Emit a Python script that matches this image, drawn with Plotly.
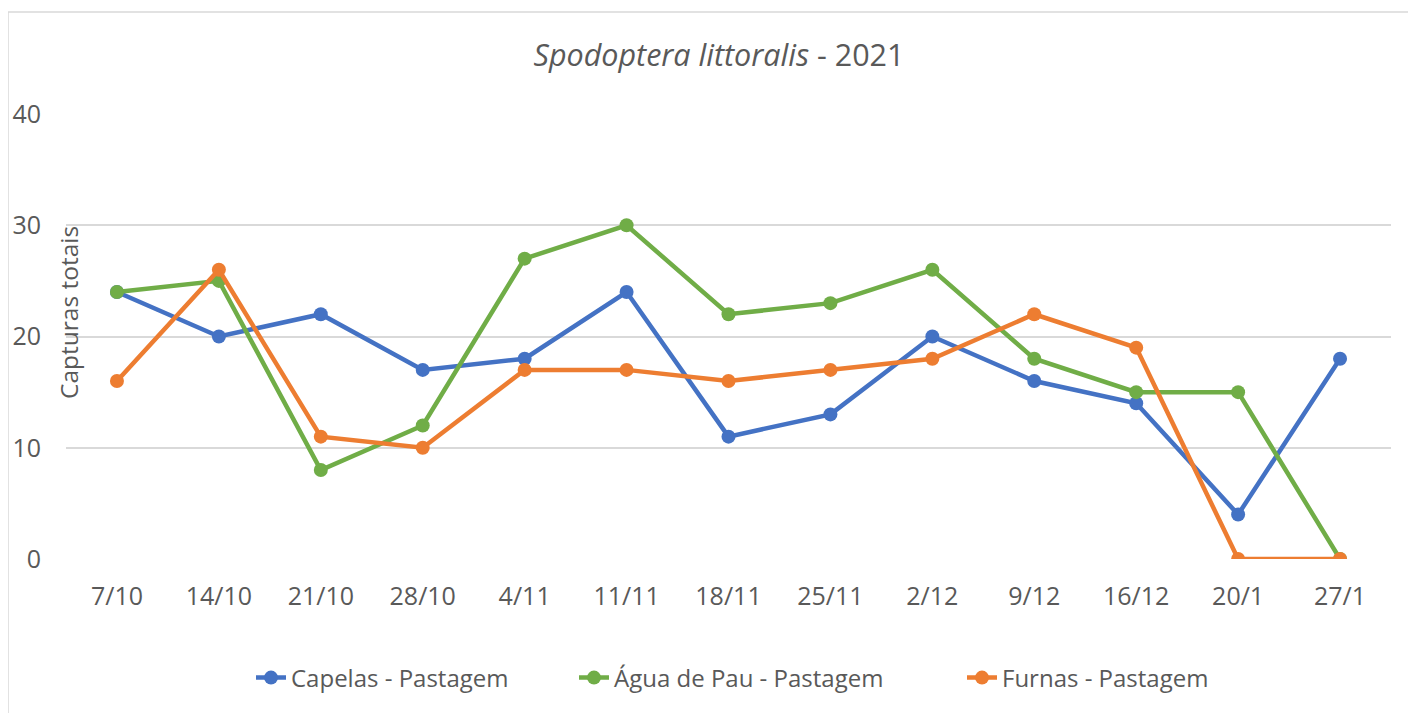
import plotly.graph_objects as go

categories = ["7/10", "14/10", "21/10", "28/10", "4/11", "11/11", "18/11",
              "25/11", "2/12", "9/12", "16/12", "20/1", "27/1"]
capelas = [24, 20, 22, 17, 18, 24, 11, 13, 20, 16, 14, 4, 18]
agua_de_pau = [24, 25, 8, 12, 27, 30, 22, 23, 26, 18, 15, 15, 0]
furnas = [16, 26, 11, 10, 17, 17, 16, 17, 18, 22, 19, 0, 0]
series_names = ["Capelas - Pastagem", "Água de Pau - Pastagem", "Furnas - Pastagem"]
colors = ["#4472C4", "#70AD47", "#ED7D31"]

FONT = "Open Sans, sans-serif"
TXT = "#595959"

# page body has an 8px margin; plot area target in page px: x 66..1391, y 114..559
W, H = 1408, 705
L, T = 58, 106
PW, PH = 1325, 445
R = W - L - PW
B = H - T - PH

legend_ids = ["legend", "legend2", "legend3"]
legend_text_x = [296, 619, 1007]  # page px anchor for each legend entry

fig = go.Figure()
for name, vals, col, lid in zip(series_names, [capelas, agua_de_pau, furnas], colors, legend_ids):
    fig.add_trace(go.Scatter(
        x=categories, y=vals, name=name, mode="lines+markers",
        line=dict(color=col, width=4.5),
        marker=dict(color=col, size=14),
        legend=lid,
    ))

legend_common = dict(orientation="h", xanchor="left", y=(559 - 678) / PH, yanchor="middle",
                     font=dict(family=FONT, size=24, color=TXT), bgcolor="rgba(0,0,0,0)")
legends = {}
for lid, tx in zip(legend_ids, legend_text_x):
    legends[lid] = dict(legend_common, x=(tx - 45 - 66) / PW)

fig.update_layout(
    width=W, height=H,
    paper_bgcolor="white", plot_bgcolor="white",
    margin=dict(l=L, r=R, t=T, b=B),
    font=dict(family=FONT, color=TXT, size=25),
    title=dict(text="<i>Spodoptera littoralis</i> - 2021", x=(719 - 8) / W,
               xanchor="center", xref="container",
               y=1 - (55 - 8) / H, yanchor="middle",
               font=dict(family=FONT, size=30.5, color=TXT)),
    showlegend=True,
    xaxis=dict(type="category", range=[-0.5, len(categories) - 0.5], automargin=False,
               showgrid=False, showline=False, zeroline=False,
               ticks="", ticklabelstandoff=20, tickfont=dict(size=25, color=TXT)),
    yaxis=dict(range=[0, 40], tickvals=[0, 10, 20, 30, 40], showgrid=True, automargin=False,
               gridcolor="#D9D9D9", gridwidth=1.5, zeroline=False, showline=False,
               ticks="", ticklabelstandoff=24, tickfont=dict(size=25, color=TXT)),
    **legends,
)

fig.add_annotation(text="Capturas totais", xref="paper", yref="paper",
                   x=(68 - 66) / PW, y=(559 - 313) / PH, textangle=-90,
                   showarrow=False, xanchor="center", yanchor="middle",
                   font=dict(family=FONT, size=24.5, color=TXT))

fig.add_shape(type="rect", xref="paper", yref="paper",
              x0=(8 - 66) / PW, x1=(1415 - 66) / PW,
              y0=-0.4, y1=1 + (114 - 12) / PH,
              line=dict(color="#D9D9D9", width=1.5), fillcolor="rgba(0,0,0,0)",
              layer="below")

fig.write_html("out.html")
